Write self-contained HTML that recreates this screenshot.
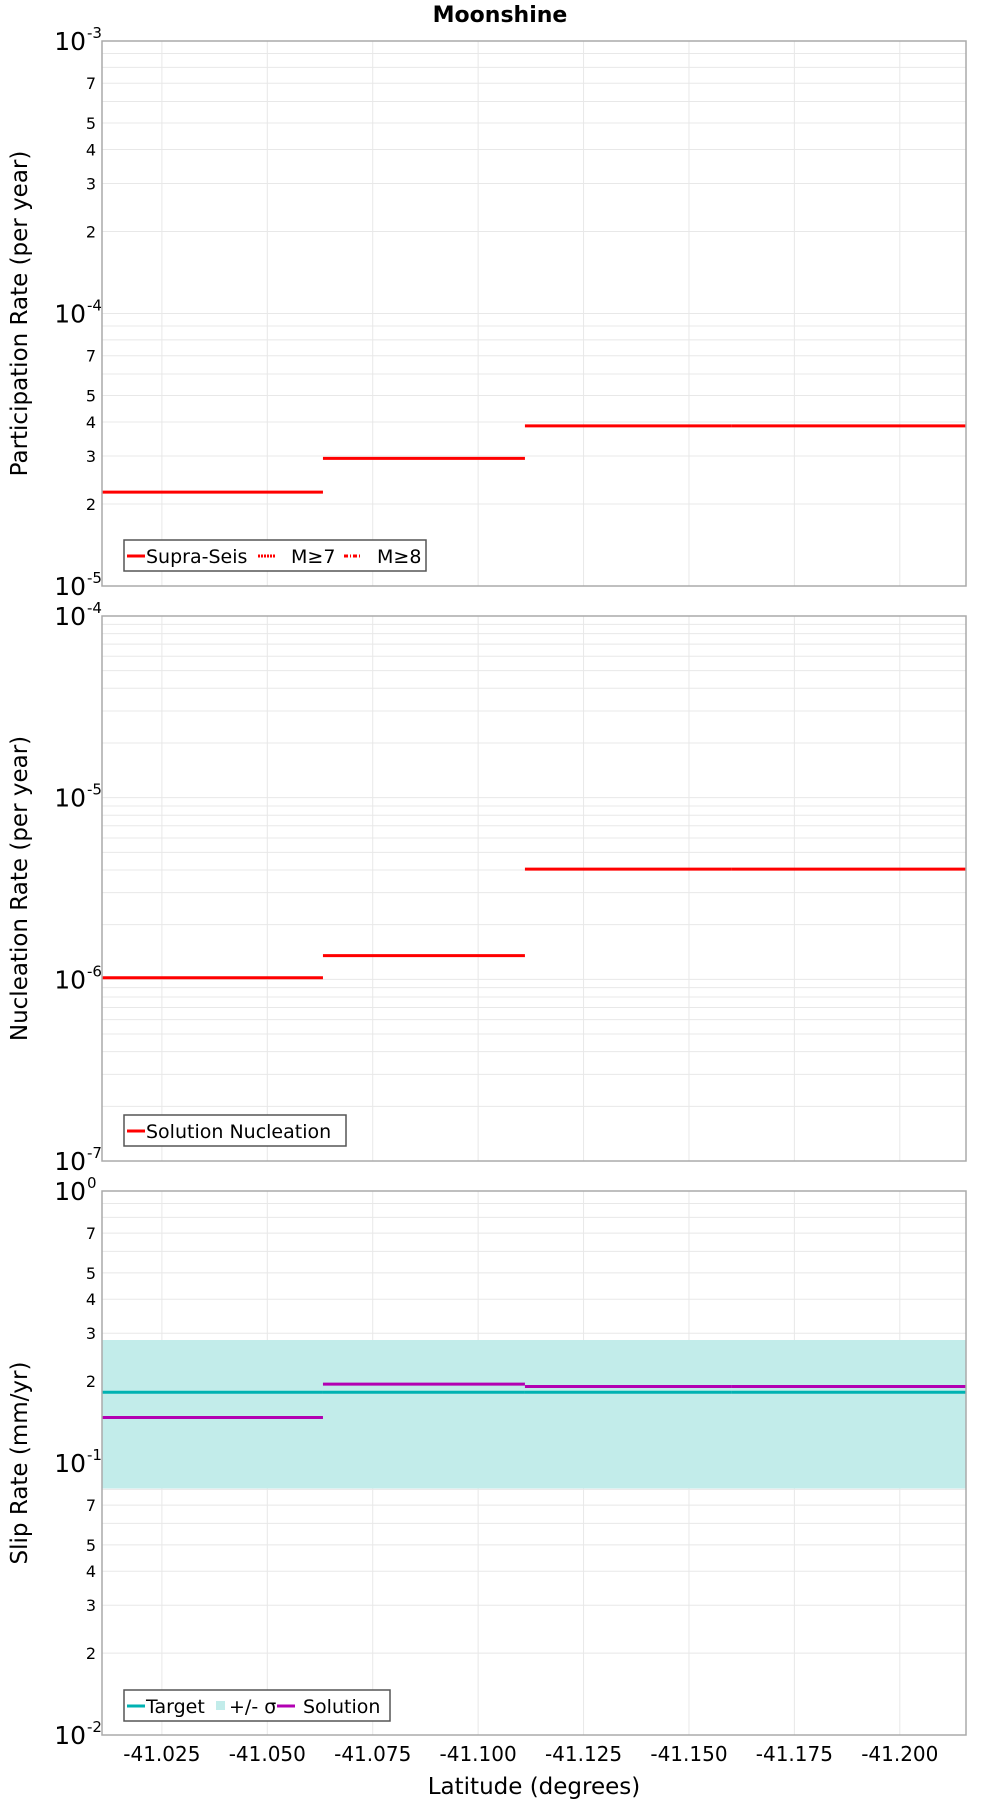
<!DOCTYPE html>
<html><head><meta charset="utf-8"><style>
html,body{margin:0;padding:0;background:#fff}
svg{display:block;font-family:"DejaVu Sans","Liberation Sans",sans-serif}
</style></head><body>
<svg id="chart" width="1000" height="1800" viewBox="0 0 1000 1800" xmlns="http://www.w3.org/2000/svg">
<text x="500" y="22" text-anchor="middle" font-size="22" font-weight="bold">Moonshine</text>
</svg>
<script>
// data
const segStart = [-41.0108, -41.0632, -41.1111, -41.16];
const segEnd   = [-41.0632, -41.1111, -41.16, -41.2157];
const participation = [2.21e-5, 2.94e-5, 3.87e-5, 3.87e-5];
const nucleation = [1.02e-6, 1.35e-6, 4.04e-6, 4.04e-6];
const slipTarget = [0.182, 0.182, 0.182, 0.182];
const slipSigmaHi = [0.283, 0.283, 0.283, 0.283];
const slipSigmaLo = [0.0806, 0.0806, 0.0806, 0.0806];
const slipSolution = [0.147, 0.195, 0.191, 0.191];
const xTicks = [-41.025, -41.05, -41.075, -41.1, -41.125, -41.15, -41.175, -41.2];
const xTickLabels = ["-41.025","-41.050","-41.075","-41.100","-41.125","-41.150","-41.175","-41.200"];

const NS = "http://www.w3.org/2000/svg";
const svg = document.getElementById('chart');
const L = 102, R = 966;
const xMin = -41.0108, xMax = -41.2157;
function xs(v){ return L + (v - xMin) / (xMax - xMin) * (R - L); }
function mk(tag, attrs, parent){ const e = document.createElementNS(NS, tag); for (const k in attrs) e.setAttribute(k, attrs[k]); (parent||svg).appendChild(e); return e; }

function panel(name, top, bot, dMin, dMax, minorLabels, ylabel){
  const g = mk('g', {});
  
  
  const ys = v => bot - (Math.log10(v) - dMin) / (dMax - dMin) * (bot - top);
  for (let d = dMin; d < dMax; d++) {
    for (let m = 1; m <= 9; m++) {
      const v = m * Math.pow(10, d);
      const y = ys(v);
      const gl = mk('line', {x1:L, x2:R, y1:y, y2:y, stroke:'#e8e8e8', 'stroke-width':1}, g);
      
      
      if (m === 1) {
        const t = mk('text', {x:86, y:y+9, 'text-anchor':'end', 'font-size':25}, g);
        
        
        t.textContent = '10';
        const s = mk('text', {x:87, y:y-3, 'font-size':15}, g);
        
        
        s.textContent = String(d);
      } else if (minorLabels && [2,3,4,5,7].includes(m)) {
        const t = mk('text', {x:96, y:y+6, 'text-anchor':'end', 'font-size':16}, g);
        
        
        t.textContent = String(m);
      }
    }
  }
  const t = mk('text', {x:86, y:top+9, 'text-anchor':'end', 'font-size':25}, g);
  
  
  t.textContent = '10';
  const s = mk('text', {x:87, y:top-3, 'font-size':15}, g);
  
  
  s.textContent = String(dMax);
  xTicks.forEach(v => {
    const vl = mk('line', {x1:xs(v), x2:xs(v), y1:top, y2:bot, stroke:'#e8e8e8', 'stroke-width':1}, g);
    
    
  });
  const yl = mk('text', {x:0, y:0, 'text-anchor':'middle', 'font-size':23, transform:`translate(27,${(top+bot)/2}) rotate(-90)`}, g);
  
  
  yl.textContent = ylabel;
  return {g, ys, top, bot};
}
function frame(p){
  const r = mk('rect', {x:L, y:p.top, width:R-L, height:p.bot-p.top, fill:'none', stroke:'#aaa', 'stroke-width':1.5}, p.g);
  
  
}
function steps(p, vals, color, name, w){
  vals.forEach((v,i) => {
    const y = p.ys(v);
    const l = mk('line', {x1:xs(segStart[i]), x2:xs(segEnd[i]), y1:y, y2:y, stroke:color, 'stroke-width':w||3}, p.g);
    
    
  });
}
function legend(p, x, y, w, items){
  const lg = mk('g', {}, p.g);
  
  
  const r = mk('rect', {x:x, y:y, width:w, height:31, fill:'#fff', stroke:'#555', 'stroke-width':1.5}, lg);
  
  
  items.forEach(it => {
    let sw;
    if (it.fill) sw = mk('rect', {x:it.x, y:y+11, width:9, height:9, fill:it.color}, lg);
    else sw = mk('line', {x1:it.x, x2:it.x+18, y1:y+16, y2:y+16, stroke:it.color, 'stroke-width':3, 'stroke-dasharray':it.dash||'none'}, lg);
    
    
    const t = mk('text', {x:it.tx, y:y+23, 'font-size':19}, lg);
    
    
    t.textContent = it.label;
  });
}

const p1 = panel('participation-panel', 41, 586, -5, -3, true, 'Participation Rate (per year)');
steps(p1, participation, '#ff0000', 'participation-line');
frame(p1);
legend(p1, 124, 540, 302, [
  {x:127, tx:146, color:'#ff0000', label:'Supra-Seis'},
  {x:258, tx:291, color:'#ff0000', label:'M≥7', dash:'2,1'},
  {x:344, tx:377, color:'#ff0000', label:'M≥8', dash:'4,2,1,2'}
]);

const p2 = panel('nucleation-panel', 616, 1161, -7, -4, false, 'Nucleation Rate (per year)');
steps(p2, nucleation, '#ff0000', 'nucleation-line');
frame(p2);
legend(p2, 124, 1115, 222, [{x:127, tx:146, color:'#ff0000', label:'Solution Nucleation'}]);

const p3 = panel('slip-rate-panel', 1191, 1735, -2, 0, true, 'Slip Rate (mm/yr)');
slipSigmaHi.forEach((v,i) => {
  const y1 = p3.ys(v), y2 = p3.ys(slipSigmaLo[i]);
  const b = mk('rect', {x:xs(segStart[i]), y:y1, width:xs(segEnd[i])-xs(segStart[i]), height:y2-y1, fill:'#c2ecea', 'shape-rendering':'crispEdges'}, p3.g);
  
  
});
steps(p3, slipTarget, '#00b2b2', 'target-line');
steps(p3, slipSolution, '#b200b2', 'solution-line');
frame(p3);
legend(p3, 124, 1690, 266, [
  {x:127, tx:146, color:'#00b2b2', label:'Target'},
  {x:216, tx:229, color:'#c2ecea', label:'+/- σ', fill:true},
  {x:277, tx:303, color:'#b200b2', label:'Solution'}
]);

xTicks.forEach((v,i) => {
  const t = mk('text', {x:xs(v), y:1761, 'text-anchor':'middle', 'font-size':20});
  
  
  t.textContent = xTickLabels[i];
});
const xl = mk('text', {x:534, y:1794, 'text-anchor':'middle', 'font-size':23});


xl.textContent = 'Latitude (degrees)';
</script>
</body></html>
